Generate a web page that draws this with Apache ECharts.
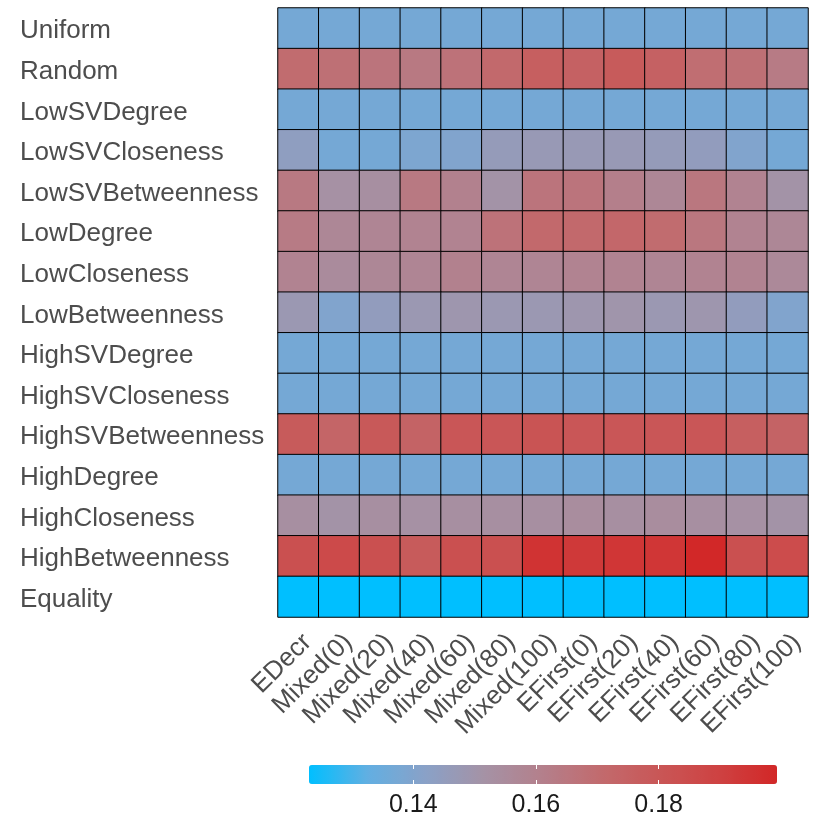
<!DOCTYPE html>
<html>
<head>
<meta charset="utf-8">
<script src="https://cdn.jsdelivr.net/npm/echarts@6/dist/echarts.min.js"></script>
<style>
  html, body { margin: 0; padding: 0; background: #fff; }
  #chart { width: 830px; height: 830px; }
</style>
</head>
<body>
<div id="chart"></div>
<script>
const cols = ['EDecr', 'Mixed(0)', 'Mixed(20)', 'Mixed(40)', 'Mixed(60)', 'Mixed(80)', 'Mixed(100)',
  'EFirst(0)', 'EFirst(20)', 'EFirst(40)', 'EFirst(60)', 'EFirst(80)', 'EFirst(100)']
const rows = ['Uniform', 'Random', 'LowSVDegree', 'LowSVCloseness', 'LowSVBetweenness', 'LowDegree',
  'LowCloseness', 'LowBetweenness', 'HighSVDegree', 'HighSVCloseness', 'HighSVBetweenness',
  'HighDegree', 'HighCloseness', 'HighBetweenness', 'Equality']

// one row of values per strategy, same order as rows
const values = [
  [0.137, 0.137, 0.137, 0.137, 0.137, 0.137, 0.137, 0.137, 0.137, 0.137, 0.137, 0.137, 0.137],
  [0.170, 0.168, 0.166, 0.164, 0.167, 0.171, 0.176, 0.175, 0.178, 0.175, 0.169, 0.168, 0.163],
  [0.137, 0.137, 0.137, 0.137, 0.137, 0.137, 0.137, 0.137, 0.137, 0.137, 0.137, 0.137, 0.137],
  [0.144, 0.137, 0.137, 0.139, 0.140, 0.146, 0.147, 0.147, 0.147, 0.146, 0.145, 0.140, 0.137],
  [0.164, 0.152, 0.153, 0.164, 0.160, 0.151, 0.166, 0.166, 0.161, 0.157, 0.165, 0.159, 0.151],
  [0.163, 0.157, 0.158, 0.159, 0.159, 0.167, 0.171, 0.171, 0.172, 0.170, 0.165, 0.159, 0.157],
  [0.159, 0.155, 0.157, 0.158, 0.160, 0.158, 0.158, 0.159, 0.159, 0.158, 0.159, 0.159, 0.156],
  [0.148, 0.140, 0.145, 0.148, 0.149, 0.148, 0.148, 0.149, 0.150, 0.148, 0.149, 0.145, 0.140],
  [0.137, 0.137, 0.137, 0.137, 0.137, 0.137, 0.137, 0.137, 0.137, 0.137, 0.137, 0.137, 0.137],
  [0.137, 0.137, 0.137, 0.137, 0.137, 0.137, 0.137, 0.137, 0.137, 0.137, 0.137, 0.137, 0.137],
  [0.178, 0.173, 0.179, 0.174, 0.180, 0.180, 0.181, 0.180, 0.180, 0.180, 0.180, 0.176, 0.174],
  [0.137, 0.137, 0.137, 0.137, 0.137, 0.137, 0.137, 0.137, 0.137, 0.137, 0.137, 0.137, 0.137],
  [0.153, 0.151, 0.153, 0.152, 0.153, 0.153, 0.153, 0.154, 0.153, 0.154, 0.153, 0.152, 0.151],
  [0.183, 0.186, 0.183, 0.178, 0.183, 0.183, 0.195, 0.193, 0.194, 0.194, 0.199, 0.183, 0.185],
  [0.123, 0.123, 0.123, 0.123, 0.123, 0.123, 0.123, 0.123, 0.123, 0.123, 0.123, 0.123, 0.123]
]

const scaleMin = 0.123
const scaleMax = 0.1993
const legendTicks = [0.14, 0.16, 0.18]
const palette = ['#00BFFF', '#62AFE2', '#8AA1C7', '#A592A5', '#B47F8B', '#C26A6D', '#C95656', '#CE4242', '#D22727']

const cells = []
rows.forEach((r, i) => values[i].forEach((v, j) => cells.push([j, i, v])))

const font = 'Liberation Sans, Arial, sans-serif'
const chart = echarts.init(document.getElementById('chart'), null, { renderer: 'canvas' })

chart.setOption({
  animation: false,
  backgroundColor: '#fff',
  textStyle: { fontFamily: font },
  grid: [
    { left: 278, right: 22, top: 8, bottom: 213 },
    { left: 309, right: 53, top: 765, height: 19 }
  ],
  xAxis: [
    { type: 'category', data: cols, gridIndex: 0,
      axisLine: { show: false }, axisTick: { show: false },
      axisLabel: { rotate: 45, fontSize: 26, color: '#4D4D4D', margin: 12, interval: 0,
        align: 'right', verticalAlign: 'top', fontFamily: font } },
    { type: 'value', gridIndex: 1, min: scaleMin, max: scaleMax, position: 'bottom', z: 10,
      axisLine: { show: false }, splitLine: { show: false },
      axisTick: { show: true, inside: true, length: 4, customValues: legendTicks,
        lineStyle: { color: '#fff', width: 1 } },
      axisLabel: { customValues: legendTicks, fontSize: 25, color: '#1A1A1A', margin: 9,
        fontFamily: font, formatter: v => v.toFixed(2) } },
    { type: 'value', gridIndex: 1, min: scaleMin, max: scaleMax, position: 'top', z: 10,
      axisLine: { show: false }, splitLine: { show: false }, axisLabel: { show: false },
      axisTick: { show: true, inside: true, length: 4, customValues: legendTicks,
        lineStyle: { color: '#fff', width: 1 } } }
  ],
  yAxis: [
    { type: 'category', data: rows, gridIndex: 0, inverse: true,
      axisLine: { show: false }, axisTick: { show: false },
      axisLabel: { margin: 258, align: 'left', interval: 0,
        formatter: v => '{n|' + v + '}',
        rich: { n: { fontSize: 26, color: '#4D4D4D', fontFamily: font, padding: [6, 0, 0, 0] } } } },
    { type: 'value', gridIndex: 1, show: false }
  ],
  visualMap: {
    type: 'continuous',
    seriesIndex: 0,
    min: scaleMin,
    max: scaleMax,
    orient: 'horizontal',
    left: 309,
    top: 765,
    padding: 0,
    itemWidth: 19,
    itemHeight: 468,
    calculable: false,
    text: null,
    showLabel: false,
    inRange: { color: palette }
  },
  series: [{
    type: 'heatmap',
    xAxisIndex: 0,
    yAxisIndex: 0,
    data: cells,
    itemStyle: { borderColor: '#000', borderWidth: 1 },
    emphasis: { disabled: true }
  }]
})
</script>
</body>
</html>
